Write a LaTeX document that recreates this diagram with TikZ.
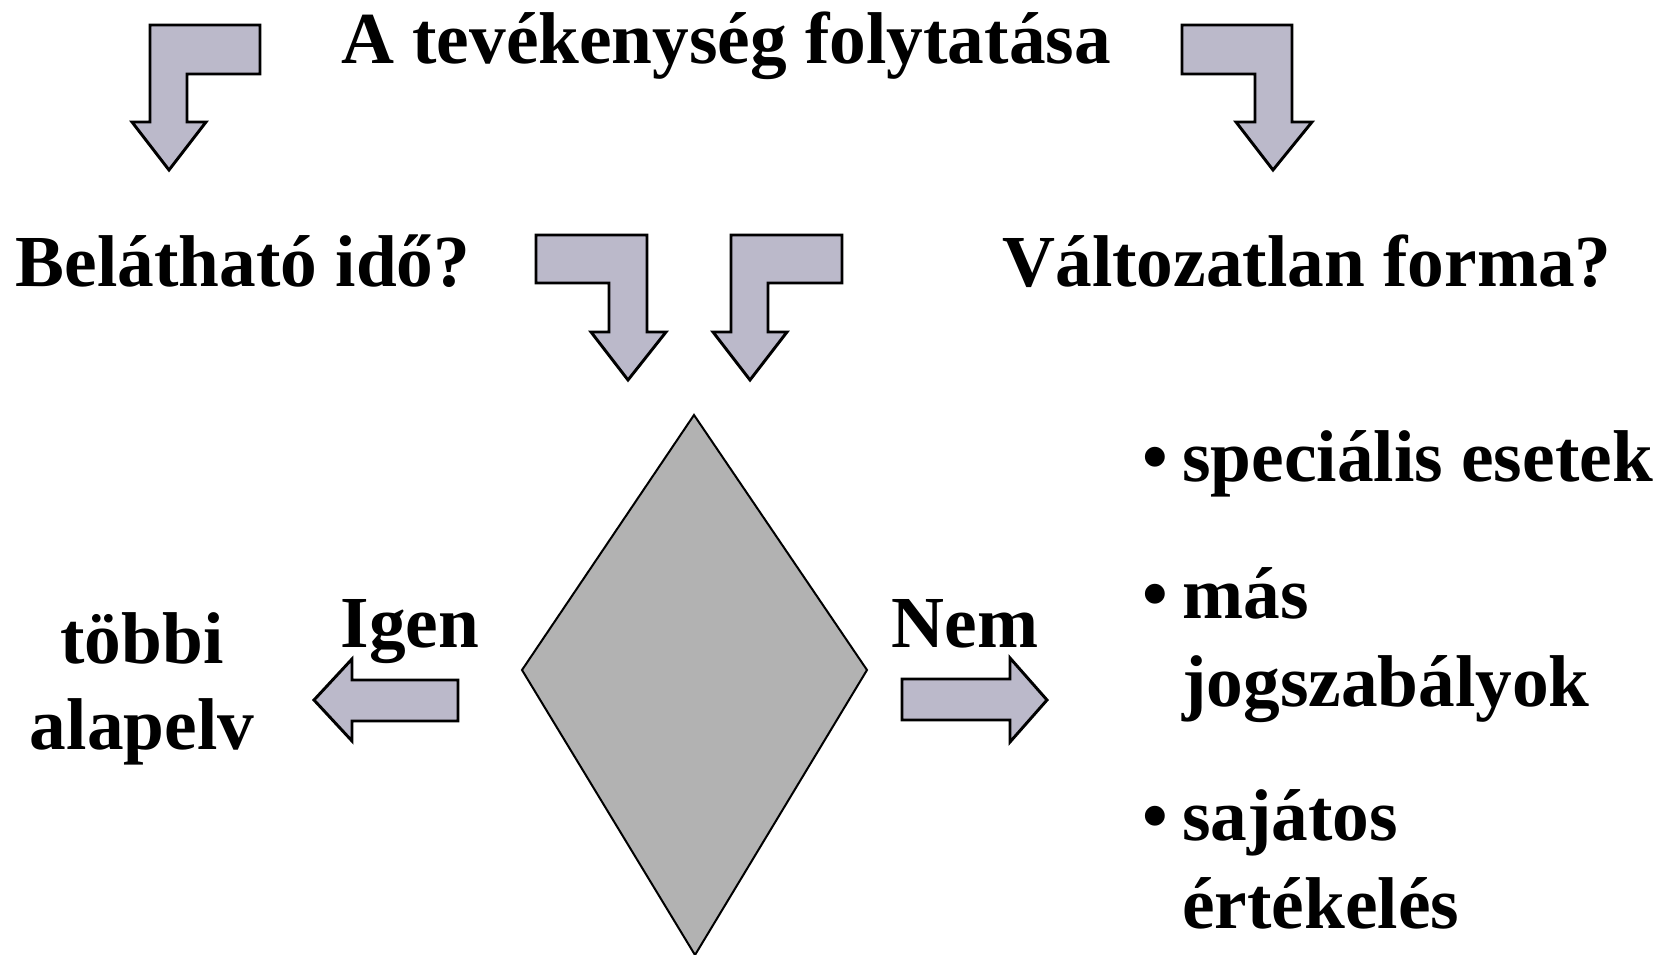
\documentclass[tikz,border=0pt]{standalone}
\usepackage{fontspec}
\setmainfont{Liberation Serif}
\usepackage{tikz}
\usepackage{xcolor}
\definecolor{arrowfill}{RGB}{187,185,202}
\definecolor{diamondfill}{RGB}{178,178,178}

\begin{document}
\begin{tikzpicture}[x=0.75pt, y=-0.75pt,
        label/.style={inner sep=0pt, font=\fontsize{55}{64}\selectfont\bfseries},
        bentarrow/.style={draw, fill=arrowfill, line width=2.2pt, line join=miter},
        decision/.style={draw, fill=diamondfill, line width=1.5pt}]
        \useasboundingbox (0,0) rectangle (1677,955);

        % Nodes
        \node[label, anchor=base] (cont) at (726, 64) {A tevékenység folytatása};
        \node[label, anchor=base] (time) at (243, 287) {Belátható idő?};
        \node[label, anchor=base] (form) at (1307, 287) {Változatlan forma?};
        \node[label, anchor=base] (yes) at (410, 647) {Igen};
        \node[label, anchor=base] (no) at (965, 647) {Nem};
        \node[label, anchor=base] (other1) at (142, 663) {többi};
        \node[label, anchor=base] (other2) at (142, 749) {alapelv};
        \node[label, anchor=base west] (b1) at (1142, 481) {•};
        \node[label, anchor=base west] (spec) at (1182, 481) {speciális esetek};
        \node[label, anchor=base west] (b2) at (1142, 618) {•};
        \node[label, anchor=base west] (law1) at (1182, 618) {más};
        \node[label, anchor=base west] (law2) at (1182, 706) {jogszabályok};
        \node[label, anchor=base west] (b3) at (1142, 840) {•};
        \node[label, anchor=base west] (eval1) at (1182, 840) {sajátos};
        \node[label, anchor=base west] (eval2) at (1182, 928) {értékelés};

        % Shapes
        \draw[decision] (694,415) -- (867,670) -- (695,955) -- (522,670) -- cycle;
        \draw[bentarrow] (260,25) -- (150,25) -- (150,122) -- (132,122) -- (169,170)
            -- (206,122) -- (187,122) -- (187,74) -- (260,74) -- cycle;
        \draw[bentarrow] (1182,25) -- (1292,25) -- (1292,122) -- (1312,122) -- (1273,170)
            -- (1236,122) -- (1255,122) -- (1255,74) -- (1182,74) -- cycle;
        \draw[bentarrow] (536,235) -- (647,235) -- (647,332) -- (666,332) -- (628,380)
            -- (591,332) -- (609,332) -- (609,283) -- (536,283) -- cycle;
        \draw[bentarrow] (842,235) -- (731,235) -- (731,332) -- (713,332) -- (750,380)
            -- (787,332) -- (768,332) -- (768,283) -- (842,283) -- cycle;
        \draw[bentarrow] (314,700) -- (352,659) -- (352,680) -- (458,680) -- (458,721)
            -- (352,721) -- (352,741) -- cycle;
        \draw[bentarrow] (1047,700) -- (1010,658) -- (1010,679) -- (902,679) -- (902,720)
            -- (1010,720) -- (1010,742) -- cycle;
    \end{tikzpicture}
\end{document}
